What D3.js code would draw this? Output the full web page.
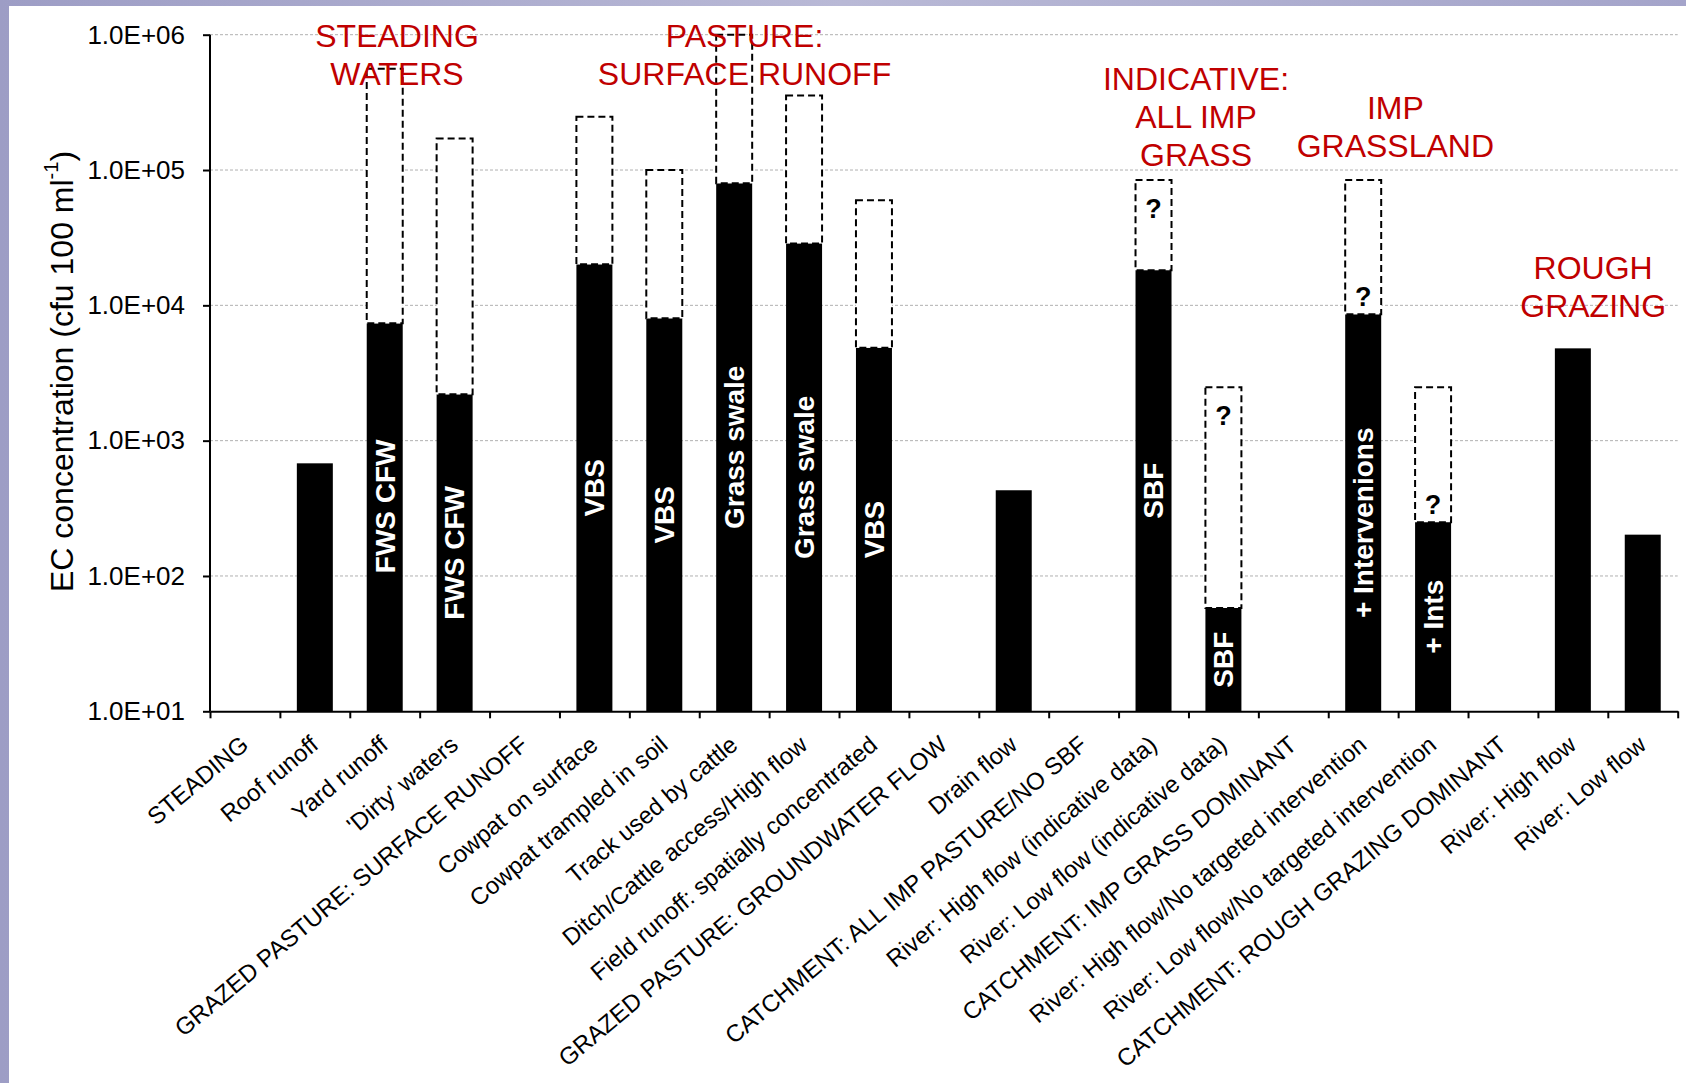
<!DOCTYPE html>
<html>
<head>
<meta charset="utf-8">
<script src="https://cdn.jsdelivr.net/npm/d3@7"></script>
<style>
  html, body { margin: 0; padding: 0; background: #fff; }
  svg { display: block; }
  text { font-family: "Liberation Sans", Arial, sans-serif; }
</style>
</head>
<body>
<script>
// ---------------- DATA ----------------
const categories = [
  "STEADING", "Roof runoff", "Yard runoff", "'Dirty' waters",
  "GRAZED PASTURE: SURFACE RUNOFF", "Cowpat on surface", "Cowpat trampled in soil",
  "Track used by cattle", "Ditch/Cattle access/High flow", "Field runoff: spatially concentrated",
  "GRAZED PASTURE: GROUNDWATER FLOW", "Drain flow", "CATCHMENT: ALL IMP PASTURE/NO SBF",
  "River: High flow (indicative data)", "River: Low flow (indicative data)",
  "CATCHMENT: IMP GRASS DOMINANT", "River: High flow/No targeted intervention",
  "River: Low flow/No targeted intervention", "CATCHMENT: ROUGH GRAZING DOMINANT",
  "River: High flow", "River: Low flow"
];
// measured concentration (solid black bars)
const measuredValues = [null, 680, 7360, 2200, null, 20100, 8020, 79800, 28700, 4860,
  null, 430, null, 18200, 58, null, 8590, 250, null, 4810, 202];
// upper end of range (dashed boxes)
const upperValues = [null, null, 560000, 171000, null, 248000, 100000, 1000000, 356000, 59700,
  null, null, null, 84300, 2480, null, 84300, 2480, null, null, null];
// text written inside the black bars
const barLabels = ["", "", "FWS CFW", "FWS CFW", "", "VBS", "VBS", "Grass swale", "Grass swale", "VBS",
  "", "", "", "SBF", "SBF", "", "+ Intervenions", "+ Ints", "", "", ""];
// question marks in dashed boxes: "top" / "bottom" of the box
const questionMarks = ["", "", "", "", "", "", "", "", "", "", "", "", "",
  "top", "top", "", "bottom", "bottom", "", "", ""];
const yTickValues = [10, 100, 1000, 10000, 100000, 1000000];
const yTickLabels = ["1.0E+01", "1.0E+02", "1.0E+03", "1.0E+04", "1.0E+05", "1.0E+06"];
const groupTitles = [
  ["STEADING", "WATERS"],
  ["PASTURE:", "SURFACE RUNOFF"],
  ["INDICATIVE:", "ALL IMP", "GRASS"],
  ["IMP", "GRASSLAND"],
  ["ROUGH", "GRAZING"]
];
const yTitle = "EC concentration (cfu 100 ml";
const yTitleSup = "-1";

// ---------------- LAYOUT ----------------
const W = 1686, H = 1083;
const pLeft = 210, pRight = 1677.7, pTop = 34.7, pBottom = 711.3;
// group title placement (in category units from axis start, first-line centre y)
const groupPlace = [
  { at: 2.676, y: 35.3 },
  { at: 7.648, y: 35.3 },
  { at: 14.108, y: 78.5 },
  { at: 16.96, y: 107.8 },
  { at: 19.79, y: 267.5 }
];
// small vertical nudges (px) of in-bar labels, by category index
const labelNudge = { 2: -11, 16: 10 };

const svg = d3.select("body").append("svg").attr("width", W).attr("height", H);

// background frame
const defs = svg.append("defs");
const grad = defs.append("linearGradient").attr("id", "frame")
  .attr("x1", "0").attr("y1", "0").attr("x2", "1").attr("y2", "0");
grad.append("stop").attr("offset", "0%").attr("stop-color", "#9d9dc5");
grad.append("stop").attr("offset", "50%").attr("stop-color", "#b9b9d6");
grad.append("stop").attr("offset", "100%").attr("stop-color", "#a4a4ca");
svg.append("rect").attr("width", W).attr("height", H).attr("fill", "url(#frame)");
svg.append("rect").attr("x", 9).attr("y", 6).attr("width", W - 9).attr("height", H - 6).attr("fill", "#fff");

const y = d3.scaleLog().domain([10, 1e6]).range([pBottom, pTop]);
const x = d3.scaleBand().domain(categories).range([pLeft, pRight])
  .paddingInner(0.485).paddingOuter(0.2425);
const xEdge = d3.scaleLinear().domain([0, categories.length]).range([pLeft, pRight]);
const bw = x.bandwidth();
const cx = d => x(d) + bw / 2;

// gridlines
svg.append("g").selectAll("line")
  .data(yTickValues.slice(1))
  .join("line")
  .attr("x1", pLeft).attr("x2", pRight)
  .attr("y1", d => y(d)).attr("y2", d => y(d))
  .attr("stroke", "#b0b0b0").attr("stroke-width", 1)
  .attr("stroke-dasharray", "3,2");

// black bars
const idx = d3.range(categories.length);
svg.append("g").selectAll("rect")
  .data(idx.filter(i => measuredValues[i] != null))
  .join("rect")
  .attr("x", i => x(categories[i]))
  .attr("y", i => y(measuredValues[i]))
  .attr("width", bw)
  .attr("height", i => pBottom - y(measuredValues[i]))
  .attr("fill", "#000");

// dashed upper-range boxes
svg.append("g").selectAll("rect")
  .data(idx.filter(i => upperValues[i] != null))
  .join("rect")
  .attr("x", i => x(categories[i]))
  .attr("y", i => y(upperValues[i]))
  .attr("width", bw)
  .attr("height", i => y(measuredValues[i]) - y(upperValues[i]))
  .attr("fill", "#fff")
  .attr("stroke", "#000").attr("stroke-width", 2)
  .attr("stroke-dasharray", "7,4");

// labels inside bars
svg.append("g").selectAll("text")
  .data(idx.filter(i => barLabels[i]))
  .join("text")
  .attr("transform", i => `translate(${cx(categories[i])},${(y(measuredValues[i]) + pBottom) / 2 + (labelNudge[i] || 0)}) rotate(-90)`)
  .attr("text-anchor", "middle")
  .attr("dy", "0.35em")
  .attr("fill", "#fff")
  .attr("font-weight", "bold")
  .attr("font-size", 28)
  .text(i => barLabels[i]);

// question marks
svg.append("g").selectAll("text")
  .data(idx.filter(i => questionMarks[i]))
  .join("text")
  .attr("x", i => cx(categories[i]))
  .attr("y", i => questionMarks[i] === "top" ? y(upperValues[i]) + 28 : y(measuredValues[i]) - 17.5)
  .attr("dy", "0.36em")
  .attr("text-anchor", "middle")
  .attr("font-weight", "bold")
  .attr("font-size", 27)
  .attr("fill", "#000")
  .text("?");

// y axis
const yAxis = d3.axisLeft(y).tickValues(yTickValues)
  .tickFormat((d, i) => yTickLabels[i]).tickSize(7).tickPadding(18);
const gy = svg.append("g").attr("transform", `translate(${pLeft},0)`).call(yAxis);
gy.select(".domain").attr("stroke", "#000").attr("stroke-width", 2).attr("d", `M0,${pTop}V${pBottom}`);
gy.selectAll(".tick line").attr("stroke", "#000").attr("stroke-width", 2);
gy.selectAll(".tick text").attr("font-size", 26).attr("fill", "#000")
  .attr("font-family", "'Liberation Sans', Arial, sans-serif");

// x axis
const xAxis = d3.axisBottom(xEdge).tickValues(d3.range(categories.length + 1))
  .tickFormat("").tickSize(7).tickSizeOuter(0);
const gx = svg.append("g").attr("transform", `translate(0,${pBottom})`).call(xAxis);
gx.select(".domain").attr("stroke", "#000").attr("stroke-width", 2);
gx.selectAll(".tick line").attr("stroke", "#000").attr("stroke-width", 2);

// x category labels
svg.append("g").selectAll("text")
  .data(categories)
  .join("text")
  .attr("transform", d => `translate(${cx(d) + 5},${pBottom + 36}) rotate(-40)`)
  .attr("text-anchor", "end")
  .attr("font-size", 24)
  .attr("fill", "#000")
  .text(d => d);

// y title
const yt = svg.append("text")
  .attr("transform", `translate(62,${(150 + 593) / 2}) rotate(-90)`)
  .attr("text-anchor", "middle")
  .attr("dy", "0.35em")
  .attr("font-size", 32)
  .attr("fill", "#000");
yt.append("tspan").text(yTitle);
yt.append("tspan").attr("font-size", 20).attr("dy", "-0.75em").text(yTitleSup);
yt.append("tspan").attr("dy", "0.47em").text(")");

// group titles
const step = x.step();
groupTitles.forEach((lines, gi) => {
  const p = groupPlace[gi];
  const t = svg.append("text")
    .attr("text-anchor", "middle")
    .attr("font-size", 32)
    .attr("fill", "#c00000");
  lines.forEach((ln, li) => {
    t.append("tspan")
      .attr("x", pLeft + p.at * step)
      .attr("y", p.y + li * 38 + 11.5)
      .text(ln);
  });
});
</script>
</body>
</html>
